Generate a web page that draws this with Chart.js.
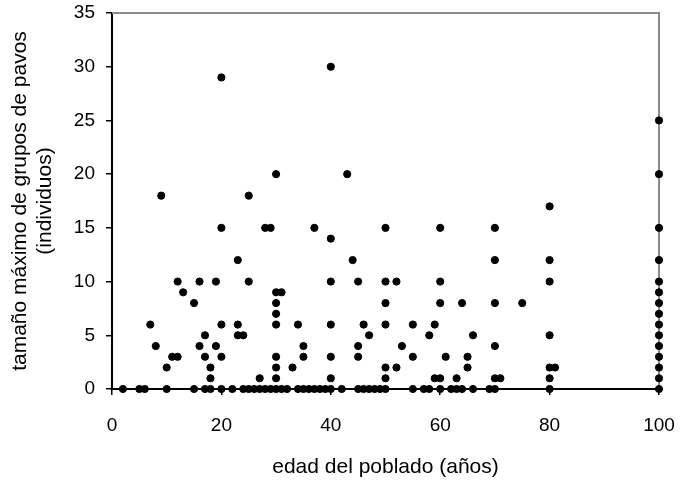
<!DOCTYPE html>
<html lang="es">
<head>
<meta charset="UTF-8">
<title>Tamaño de grupos de pavos</title>
<script src="https://cdn.jsdelivr.net/npm/chart.js"></script>
<style>
  body { margin: 0; padding: 0; background: #fff; }
  .wrap { width: 680px; height: 481px; position: relative; }
</style>
</head>
<body>
<div class="wrap"><canvas id="chart"></canvas></div>
<script>
// edad del poblado (años)
const ages = [
  2, 5, 6, 7, 8, 9, 10, 10, 11, 12, 12, 13, 15, 15, 16, 16, 17, 17, 17, 18, 18, 18,
  19, 19, 20, 20, 20, 20, 20, 22, 23, 23, 23, 24, 24, 25, 25, 25, 26, 27, 27, 28, 28,
  29, 29, 30, 30, 30, 30, 30, 30, 30, 30, 30, 31, 31, 32, 33, 34, 34, 35, 35, 35, 36,
  37, 37, 38, 39, 40, 40, 40, 40, 40, 40, 40, 42, 43, 44, 45, 45, 45, 45, 46, 46, 47,
  47, 48, 49, 50, 50, 50, 50, 50, 50, 50, 52, 52, 53, 55, 55, 55, 57, 58, 58, 59, 59,
  60, 60, 60, 60, 60, 61, 62, 63, 63, 64, 64, 65, 65, 66, 66, 69, 70, 70, 70, 70, 70,
  70, 71, 75, 80, 80, 80, 80, 80, 80, 80, 81,
  100, 100, 100, 100, 100, 100, 100, 100, 100, 100, 100, 100, 100, 100, 100
];
// tamaño máximo de grupos de pavos (individuos)
const groupSizes = [
  0, 0, 0, 6, 4, 18, 2, 0, 3, 3, 10, 9, 8, 0, 10, 4, 5, 3, 0, 2, 1, 0,
  10, 4, 29, 15, 6, 3, 0, 0, 12, 6, 5, 5, 0, 18, 10, 0, 0, 1, 0, 15, 0,
  15, 0, 20, 9, 8, 7, 6, 3, 2, 1, 0, 9, 0, 0, 2, 6, 0, 4, 3, 0, 0,
  15, 0, 0, 0, 30, 14, 10, 6, 3, 1, 0, 0, 20, 12, 10, 4, 3, 0, 6, 0, 5,
  0, 0, 0, 15, 10, 8, 6, 2, 1, 0, 10, 2, 4, 6, 3, 0, 0, 5, 0, 6, 1,
  15, 10, 8, 1, 0, 3, 0, 1, 0, 8, 0, 3, 2, 5, 0, 0, 15, 12, 8, 4, 1,
  0, 1, 8, 17, 12, 10, 5, 2, 1, 0, 2,
  25, 20, 15, 12, 10, 9, 8, 7, 6, 5, 4, 3, 2, 1, 0
];
const xTicks = [0, 20, 40, 60, 80, 100];
const yTicks = [0, 5, 10, 15, 20, 25, 30, 35];

const points = ages.map((a, i) => ({ x: a, y: groupSizes[i] }));
const fam = "'Liberation Sans', Arial, sans-serif";
const tickFont = { family: fam, size: 19 };

// marco gris del área de trazado (arriba y derecha)
const frame = {
  id: 'frame',
  beforeDatasetsDraw(chart) {
    const a = chart.chartArea, ctx = chart.ctx;
    ctx.save();
    ctx.strokeStyle = '#8c8c8c';
    ctx.lineWidth = 2;
    ctx.beginPath();
    ctx.moveTo(a.left, a.top);
    ctx.lineTo(a.right, a.top);
    ctx.lineTo(a.right, a.bottom);
    ctx.stroke();
    ctx.restore();
  }
};

new Chart(document.getElementById('chart'), {
  type: 'scatter',
  data: {
    datasets: [{
      data: points,
      backgroundColor: '#000',
      borderColor: '#000',
      pointRadius: 3.6,
      pointHoverRadius: 3.6,
      clip: false
    }]
  },
  options: {
    responsive: true,
    maintainAspectRatio: false,
    animation: false,
    layout: { padding: { top: 13, right: 21, left: 0, bottom: 0 } },
    plugins: { legend: { display: false }, tooltip: { enabled: false } },
    scales: {
      x: {
        type: 'linear',
        min: 0, max: 100,
        afterBuildTicks(s) { s.ticks = xTicks.map(v => ({ value: v })); },
        afterFit(s) { s.height = 92; s.paddingLeft = 0; s.paddingRight = 0; },
        border: { display: true, color: '#000', width: 2 },
        grid: { drawOnChartArea: false, drawTicks: true, tickLength: 6, color: '#000', lineWidth: 1.5 },
        ticks: { color: '#000', font: tickFont, padding: 19, maxRotation: 0 },
        title: {
          display: true, text: 'edad del poblado (años)', color: '#000',
          font: { family: fam, size: 21, lineHeight: 1.2 }, padding: { top: 0, bottom: 1 }
        }
      },
      y: {
        type: 'linear',
        min: 0, max: 35,
        afterBuildTicks(s) { s.ticks = yTicks.map(v => ({ value: v })); },
        afterFit(s) { s.width = 112; s.paddingTop = 0; s.paddingBottom = 0; },
        border: { display: true, color: '#000', width: 2 },
        grid: { drawOnChartArea: false, drawTicks: true, tickLength: 6, color: '#000', lineWidth: 1.5 },
        ticks: { color: '#000', font: tickFont, padding: 11 },
        title: {
          display: true, text: ['tamaño máximo de grupos de pavos', '(individuos)'], color: '#000',
          font: { family: fam, size: 21, lineHeight: 1.19 }, padding: { top: 7.5, bottom: 0 }
        }
      }
    }
  },
  plugins: [frame]
});
</script>
</body>
</html>
